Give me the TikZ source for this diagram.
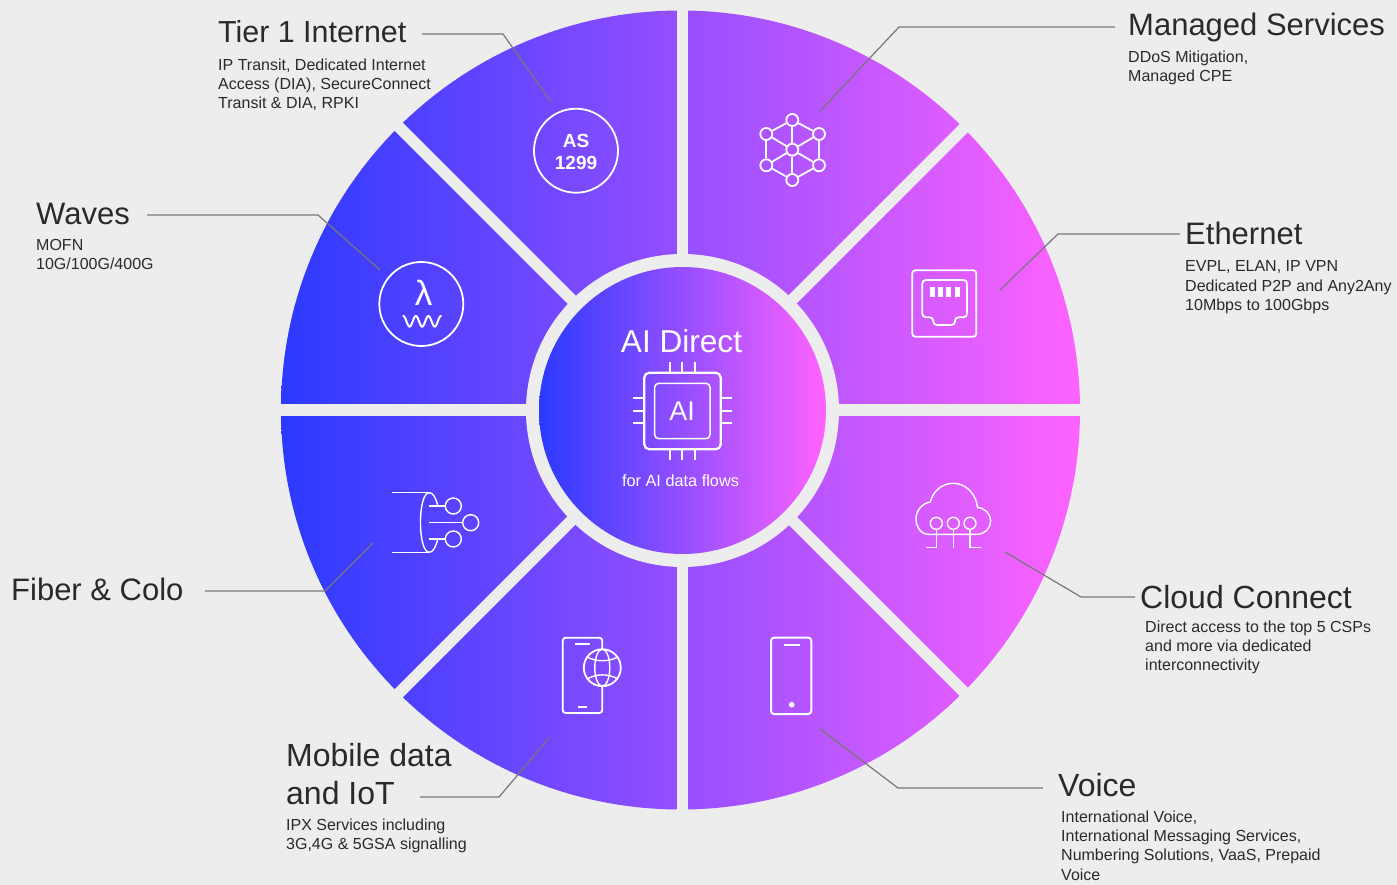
\documentclass[tikz,border=0pt]{standalone}
\usepackage{fontspec}
\setmainfont{Liberation Sans}
\definecolor{bgc}{HTML}{EEEDED}
\definecolor{blueL}{HTML}{2B3AFF}
\definecolor{purpM}{HTML}{8C4BFF}
\definecolor{pinkR}{HTML}{FF63FF}
\definecolor{inkc}{HTML}{2A2A2A}
\definecolor{leadc}{HTML}{777777}
\newcommand{\ttlfont}{\fontsize{31}{37.5}\selectfont}
\newcommand{\ttlbig}{\fontsize{32}{37.5}\selectfont}
\newcommand{\bdyfont}{\fontsize{16}{19.2}\selectfont}
\tikzset{
  ttl/.style={anchor=base west,inner sep=0,text=inkc,font=\ttlfont,align=left},
  bdy/.style={anchor=north west,inner sep=0,text=inkc,font=\bdyfont,align=left,yshift=-1.7pt},
  leader/.style={draw=leadc,line width=1.2pt},
  gapline/.style={draw=bgc,line width=11.5pt},
  ico/.style={draw=white,line width=1.8pt},
  icothin/.style={draw=white,line width=1.4pt},
  netdot/.style={circle,draw=white,line width=1.8pt,minimum size=12pt,inner sep=0},
  wtxt/.style={text=white,inner sep=0},
  wheel/.style={left color=blueL,middle color=purpM,right color=pinkR}
}
\begin{document}
\begin{tikzpicture}[x=1pt,y=-1pt]
\useasboundingbox (0,0) rectangle (1397,885);
\fill[bgc] (0,0) rectangle (1397,885);
% wheel
\shade[wheel] (680.5,410) circle [radius=399.5];
\draw[gapline] (682.5,0) -- (682.5,820);
\draw[gapline] (270,410) -- (1090,410);
\draw[gapline] (392,120) -- (972,700);
\draw[gapline] (392,700) -- (972,120);
\fill[bgc] (682.5,410.5) circle [radius=156.5];
\shade[wheel] (682.5,410.5) circle [radius=143.5];
% centre
\node[wtxt,anchor=base,font=\fontsize{31.6}{32}\selectfont] (aidirect) at (681.5,352) {AI Direct};
\node[wtxt,anchor=base,font=\fontsize{16.3}{18}\selectfont] (aiflows) at (680.5,486) {for AI data flows};
\draw[draw=white,line width=2.2pt,rounded corners=5pt] (644.3,372.7) rectangle (720.7,449.3);
\draw[draw=white,line width=1.5pt,rounded corners=4pt] (654.7,383.3) rectangle (710,438.7);
\foreach \p in {670,682.3,694.7}{
  \draw[draw=white,line width=2.2pt] (\p,362.3) -- (\p,372.7);
  \draw[draw=white,line width=2.2pt] (\p,449.3) -- (\p,460);
}
\foreach \p in {398.3,410.7,423.3}{
  \draw[draw=white,line width=2.2pt] (633.3,\p) -- (644.3,\p);
  \draw[draw=white,line width=2.2pt] (720.7,\p) -- (731.7,\p);
}
\node[wtxt,font=\fontsize{27}{27}\selectfont] (aichip) at (682,411) {AI};
% AS circle
\node[draw=white,line width=1.8pt,circle,minimum size=84pt,inner sep=0] (ascircle) at (576,150.7) {};
\node[wtxt,align=center,font=\fontsize{19}{22}\selectfont\bfseries] (asnode) at (576,152.2) {AS\\1299};
% lambda
\node[draw=white,line width=1.8pt,circle,minimum size=84pt,inner sep=0] (lamcircle) at (421.3,304) {};
\node[wtxt,font=\fontsize{35}{35}\selectfont] (lam) at (423.5,292.5) {λ};
\draw[draw=white,line width=2pt,line cap=round] plot[domain=0:1,samples=70,smooth] ({403.3+37.7*\x},{321.3-5.3*cos(1080*\x)});
% network icon
\foreach \n/\a/\b in {na/792.3/120,nb/819/134,nc/819/165.3,nd/792.3/180,ne/766.3/165.3,nf/766.3/134,ng/792.3/149.7}{
  \node[netdot] (\n) at (\a,\b) {};
}
\draw[ico] (na)--(nb); \draw[ico] (nb)--(nc); \draw[ico] (nc)--(nd);
\draw[ico] (nd)--(ne); \draw[ico] (ne)--(nf); \draw[ico] (nf)--(na);
\foreach \n in {na,nb,nc,nd,ne,nf}{\draw[ico] (ng)--(\n);}
% ethernet icon
\draw[ico,rounded corners=3pt] (912.3,270.3) rectangle (976.3,336.7);
\draw[ico,rounded corners=3.5pt] (922.3,280) -- (967,280) -- (967,317.3) -- (955,317.3) -- (955,325) -- (933.3,325) -- (933.3,317.3) -- (922.3,317.3) -- cycle;
\foreach \p in {930,938,946,955}{\fill[white] (\p,286.7) rectangle (\p+5,297);}
% cloud icon
\draw[icothin] (928.3,534.3) .. controls (921,534.3) and (916,527) .. (916,518.5) .. controls (916,510) and (923,503) .. (930.3,502) .. controls (933,491) and (942,483.3) .. (953.3,483.3) .. controls (965,483.3) and (976,493) .. (977.5,507.5) .. controls (985,508) and (990.7,514) .. (990.7,521) .. controls (990.7,528) and (985,534.3) .. (977,534.3) -- cycle;
\foreach \p in {936.3,953.3,970}{\draw[icothin] (\p,523.3) circle [radius=6];}
\draw[icothin] (936.3,529.3) -- (936.3,547.7) -- (926,547.7);
\draw[icothin] (953.3,529.3) -- (953.3,547.7);
\draw[icothin] (970,529.3) -- (970,547.7) -- (980.7,547.7);
% phone icon
\draw[draw=white,line width=2pt,rounded corners=3pt] (771,637.7) rectangle (811.3,714);
\draw[ico] (783.7,645) -- (799.7,645);
\fill[white] (791.7,704.7) circle [radius=2.8];
% phone + globe icon
\draw[ico,rounded corners=3pt] (602.3,649) -- (602.3,637.7) -- (562.7,637.7) -- (562.7,713) -- (602.3,713) -- (602.3,686);
\draw[ico] (575,644) -- (590,644);
\draw[ico] (578,707) -- (587,707);
\draw[ico] (602.3,667.7) circle [radius=18.5];
\draw[icothin] (602.3,667.7) ellipse [x radius=7.5,y radius=18.5];
\draw[icothin] (587,657) .. controls (597,662) and (608,662) .. (618,657);
\draw[icothin] (587,679) .. controls (597,673.5) and (608,673.5) .. (618,679);
% fibre icon
\draw[icothin] (392.3,492.7) -- (429.3,492.7);
\draw[icothin] (392.3,552.3) -- (429.3,552.3);
\draw[icothin] (429.3,552.3) .. controls (417.5,552.3) and (417.5,492.7) .. (429.3,492.7) .. controls (433,492.7) and (436,498) .. (437.7,505.7);
\draw[icothin] (429.3,552.3) .. controls (433,552.3) and (436,547) .. (437.7,539);
\draw[icothin] (429.3,506) -- (445.3,506);
\draw[icothin] (429.3,522.7) -- (462.7,522.7);
\draw[icothin] (429.3,539) -- (445.3,539);
\draw[icothin] (453.3,506) circle [radius=8];
\draw[icothin] (470.7,522.7) circle [radius=8];
\draw[icothin] (453.3,539) circle [radius=8];
% labels
\node[ttl,font=\fontsize{30.4}{37}\selectfont] (tTier) at (218,43) {Tier 1 Internet};
\node[bdy] (bTier) at (218,57) {IP Transit, Dedicated Internet\\Access (DIA), SecureConnect\\Transit \& DIA, RPKI};
\node[ttl] (tManaged) at (1128,36) {Managed Services};
\node[bdy] (bManaged) at (1128,49) {DDoS Mitigation,\\Managed CPE};
\node[ttl] (tEth) at (1185,245) {Ethernet};
\node[bdy] (bEth) at (1185,259) {EVPL, ELAN, IP VPN\\Dedicated P2P and Any2Any\\10Mbps to 100Gbps};
\node[ttl,font=\ttlbig] (tCloud) at (1140,608.5) {Cloud Connect};
\node[bdy] (bCloud) at (1145,619) {Direct access to the top 5 CSPs\\and more via dedicated\\interconnectivity};
\node[ttl,font=\ttlbig] (tVoice) at (1058,796.5) {Voice};
\node[bdy] (bVoice) at (1061,809) {International Voice,\\International Messaging Services,\\Numbering Solutions, VaaS, Prepaid\\Voice};
\node[ttl,font=\ttlbig,anchor=north west] (tMobile) at (286,743.5) {Mobile data\\and IoT};
\node[bdy] (bMobile) at (286,817) {IPX Services including\\3G,4G \& 5GSA signalling};
\node[ttl] (tFiber) at (11,600.5) {Fiber \& Colo};
\node[ttl] (tWaves) at (36,224.5) {Waves};
\node[bdy] (bWaves) at (36,237) {MOFN\\10G/100G/400G};
% leaders
\coordinate (lTierS) at (422,34); \coordinate (lTierB) at (503,34); \coordinate (lTierE) at (551,102);
\coordinate (lManS) at (1115,27); \coordinate (lManB) at (899,27); \coordinate (lManE) at (820,111);
\coordinate (lEthS) at (1180,234); \coordinate (lEthB) at (1058,234); \coordinate (lEthE) at (1000,290);
\coordinate (lCloS) at (1135,597); \coordinate (lCloB) at (1081,597); \coordinate (lCloE) at (1005,552);
\coordinate (lVoiS) at (1043,788); \coordinate (lVoiB) at (898,788); \coordinate (lVoiE) at (820,729);
\coordinate (lMobS) at (420,797); \coordinate (lMobB) at (499,797); \coordinate (lMobE) at (549,738);
\coordinate (lFibS) at (205,591); \coordinate (lFibB) at (325,591); \coordinate (lFibE) at (373,543);
\coordinate (lWavS) at (147,215); \coordinate (lWavB) at (318,215); \coordinate (lWavE) at (380,270);
\foreach \k in {Tier,Man,Eth,Clo,Voi,Mob,Fib,Wav}{
  \draw[leader] (l\k S) -- (l\k B) -- (l\k E);
}
\end{tikzpicture}
\end{document}
